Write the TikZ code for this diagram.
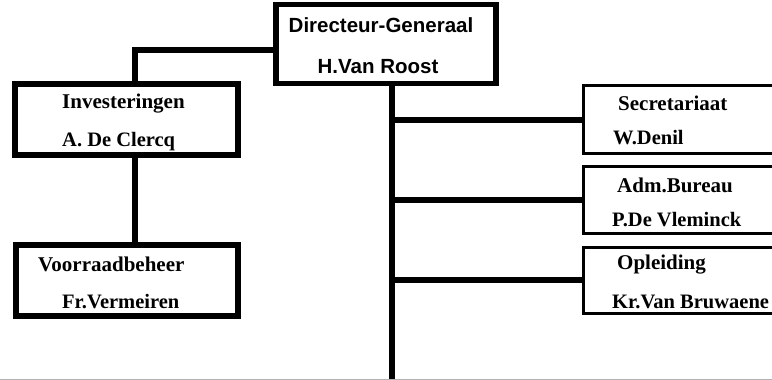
\documentclass[tikz,border=0pt]{standalone}
\usepackage{fontspec}
\setmainfont{Liberation Serif}
\newfontfamily\dgfont{Liberation Sans}
\begin{document}
\begin{tikzpicture}[x=1pt,y=-1pt,
  thickbox/.style={draw=black,line width=5.5pt,rectangle,inner sep=0pt},
  thinbox/.style={draw=black,line width=3pt,rectangle,inner sep=0pt},
  conn/.style={draw=black,line width=5.5pt},
  ttl/.style={font=\fontsize{21}{22}\selectfont\bfseries,inner sep=0pt},
  nm/.style={font=\fontsize{20.5}{22}\selectfont\bfseries,inner sep=0pt},
  dgt/.style={font=\dgfont\fontsize{20.5}{22}\selectfont\bfseries,inner sep=0pt}]
\useasboundingbox (0,0) rectangle (772,380);
\clip (0,0) rectangle (772,380);
\fill[white] (0,0) rectangle (772,380);
% boxes
\node[thickbox,minimum width=220pt,minimum height=79pt] (dg) at (386,44) {};
\node[thickbox,minimum width=223pt,minimum height=71pt] (inv) at (126.5,119.5) {};
\node[thickbox,minimum width=222pt,minimum height=71pt] (voor) at (127,280.5) {};
\node[thinbox,minimum width=220pt,minimum height=68pt] (sec) at (693,119) {};
\node[thinbox,minimum width=220pt,minimum height=67pt] (adm) at (693,199.5) {};
\node[thinbox,minimum width=220pt,minimum height=66pt] (opl) at (693,280) {};
% coordinates
\coordinate (bot) at (392,382);
\coordinate (dgb) at (392,44);
\coordinate (invt) at (135,50);
% connectors
\draw[conn] (dg.west |- 0,50) -| (inv.north -| invt);
\draw[conn] (inv.south -| invt) -- (voor.north -| invt);
\draw[conn] (dg.south -| dgb) -- (bot);
\draw[conn] (dgb |- 0,120) -- (sec.west |- 0,120);
\draw[conn] (dgb |- 0,200) -- (adm.west |- 0,200);
\draw[conn] (dgb |- 0,280) -- (opl.west |- 0,280);
% bottom edge
\draw[gray!60,line width=0.8pt] (0,379.5) -- (772,379.5);
% texts
\node[dgt] (t1) at (381,25) {Directeur-Generaal};
\node[dgt] (t2) at (378,67) {H.Van Roost};
\node[ttl,anchor=west] (t3) at (62,104) {Investeringen};
\node[nm,anchor=west] (t4) at (62,142) {A. De Clercq};
\node[ttl,anchor=west] (t5) at (38,264) {Voorraadbeheer};
\node[nm,anchor=west] (t6) at (62,302) {Fr.Vermeiren};
\node[ttl,anchor=west] (t7) at (618,103) {Secretariaat};
\node[nm,anchor=west] (t8) at (613,138) {W.Denil};
\node[ttl,anchor=west] (t9) at (617,185) {Adm.Bureau};
\node[nm,anchor=west] (t10) at (612,220) {P.De Vleminck};
\node[ttl,anchor=west] (t11) at (617,265) {Opleiding};
\node[nm,anchor=west] (t12) at (612,302) {Kr.Van Bruwaene};
\end{tikzpicture}
\end{document}
